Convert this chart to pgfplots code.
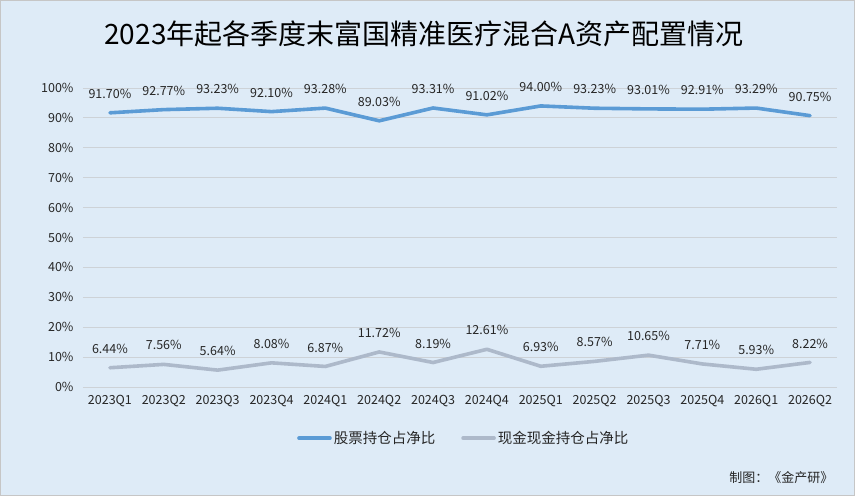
\documentclass[border=0pt]{standalone}
\usepackage{fontspec}
\setmainfont{Noto Sans CJK SC}
\usepackage{pgfplots}
\pgfplotsset{compat=1.18}
\definecolor{bgcol}{RGB}{222,235,247}
\definecolor{blueline}{RGB}{91,155,213}
\definecolor{grayline}{RGB}{173,185,202}
\definecolor{gridcol}{RGB}{205,210,215}
\begin{document}
\begin{tikzpicture}[x=1pt,y=1pt]
\fill[bgcol] (0,0) rectangle (855,496);
\draw[gray!45,line width=1pt] (0.5,0.5) rectangle (854.5,495.5);
\useasboundingbox (0,0) rectangle (855,496);
\node[font=\fontsize{28}{31}\selectfont, text=black] at (424,462) {2023年起各季度末富国精准医疗混合A资产配置情况};
\begin{axis}[
  at={(83pt,109pt)}, anchor=south west,
  scale only axis, width=754pt, height=299pt,
  xmin=-0.5, xmax=13.5, ymin=0, ymax=100,
  ytick={0,10,...,100},
  yticklabel={\pgfmathprintnumber{\tick}\%},
  xtick={0,...,13},
  xticklabels={2023Q1,2023Q2,2023Q3,2023Q4,2024Q1,2024Q2,2024Q3,2024Q4,2025Q1,2025Q2,2025Q3,2025Q4,2026Q1,2026Q2},
  /pgf/number format/assume math mode=true,
  ticklabel style={font=\fontsize{12.5}{14}\selectfont, text=black!85},
  xticklabel style={yshift=-5pt},
  yticklabel style={xshift=-6pt},
  axis line style={draw=none},
  tick style={draw=none},
  ymajorgrids, grid style={gridcol, line width=0.9pt},
  clip=false,
  nodes near coords={\pgfmathprintnumber[fixed,fixed zerofill,precision=2]{\pgfplotspointmeta}\%},
  point meta=y,
  every node near coord/.style={anchor=center, yshift=19pt, font=\fontsize{12.5}{14}\selectfont, text=black!85},
  legend style={at={(0.505,-0.171)}, anchor=center, draw=none, fill=none, legend columns=2,
    font=\fontsize{14.5}{16}\selectfont, text=black!85,
    /tikz/every even column/.append style={column sep=24pt}},
  legend image code/.code={\draw[#1] (0pt,0pt) -- (31pt,0pt);},
]
\addplot[blueline, line width=3.6pt, line join=round, line cap=round, mark=none] coordinates {
(0,91.70) (1,92.77) (2,93.23) (3,92.10) (4,93.28) (5,89.03) (6,93.31) (7,91.02) (8,94.00) (9,93.23) (10,93.01) (11,92.91) (12,93.29) (13,90.75)};
\addlegendentry{股票持仓占净比}
\addplot[grayline, line width=3.6pt, line join=round, line cap=round, mark=none] coordinates {
(0,6.44) (1,7.56) (2,5.64) (3,8.08) (4,6.87) (5,11.72) (6,8.19) (7,12.61) (8,6.93) (9,8.57) (10,10.65) (11,7.71) (12,5.93) (13,8.22)};
\addlegendentry{现金现金持仓占净比}
\end{axis}
\node[anchor=east, font=\fontsize{13}{15}\selectfont, text=black!85] at (837,18) {制图：《金产研》};
\end{tikzpicture}
\end{document}
